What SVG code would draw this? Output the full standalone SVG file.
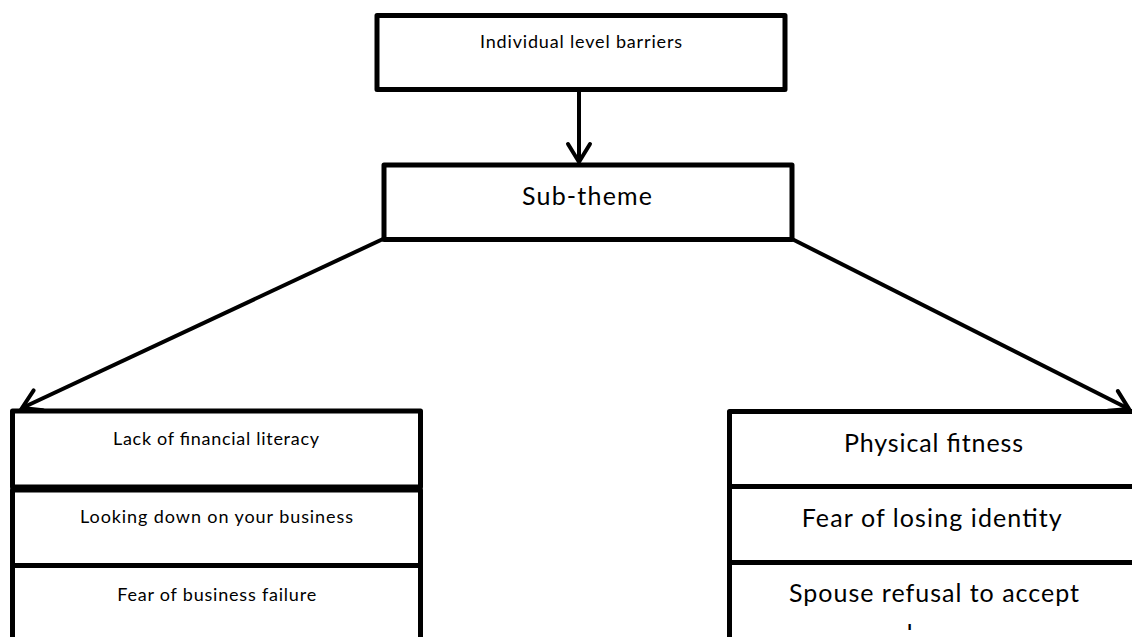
<svg xmlns="http://www.w3.org/2000/svg" width="1132" height="637" viewBox="0 0 1132 637">
  <style>
    .box { fill: #ffffff; stroke: #000000; stroke-width: 5; stroke-linejoin: round; }
    .link { fill: none; stroke: #000000; stroke-width: 4; }
    .head { fill: none; stroke: #000000; stroke-width: 4; stroke-linecap: round; stroke-linejoin: miter; }
    .sm { font-family: Lato, "Liberation Sans", sans-serif; font-size: 18px; fill: #000000; text-anchor: middle; }
    .lg { font-family: Lato, "Liberation Sans", sans-serif; font-size: 25px; fill: #000000; text-anchor: middle; }
  </style>
  <defs>
    <marker id="vee" markerUnits="userSpaceOnUse" markerWidth="30" markerHeight="30" viewBox="-22 -15 26 30" refX="0" refY="0" orient="auto">
      <path class="head" d="M-18,-11 L0,0 L-18,11"/>
    </marker>
    <clipPath id="cellClip">
      <rect x="730" y="565" width="402" height="65"/>
    </clipPath>
  </defs>
  <rect width="1132" height="637" fill="#ffffff"/>

  <g id="connectors">
    <line class="link" x1="579" y1="91" x2="579" y2="162" marker-end="url(#vee)"/>
    <line class="link" x1="383" y1="239" x2="22" y2="408" marker-end="url(#vee)"/>
    <line class="link" x1="792" y1="239" x2="1129" y2="409" marker-end="url(#vee)"/>
  </g>

  <g id="node-individual">
    <rect class="box" x="377" y="15.5" width="408" height="74"/>
    <text class="sm" x="581" y="48" textLength="202">Individual level barriers</text>
  </g>

  <g id="node-subtheme">
    <rect class="box" x="384" y="165" width="408" height="74.5"/>
    <text class="lg" x="587" y="205" textLength="130">Sub-theme</text>
  </g>

  <g id="node-financial-literacy">
    <rect class="box" x="12.5" y="411" width="408" height="76"/>
    <text class="sm" x="216" y="445" textLength="206">Lack of financial literacy</text>
  </g>
  <g id="node-looking-down">
    <rect class="box" x="12.5" y="490" width="408" height="75.5"/>
    <text class="sm" x="216.5" y="523" textLength="273">Looking down on your business</text>
  </g>
  <g id="node-business-failure">
    <rect class="box" x="12.5" y="565.5" width="408" height="90"/>
    <text class="sm" x="216.7" y="601" textLength="199">Fear of business failure</text>
  </g>

  <g id="node-physical-fitness">
    <rect class="box" x="729.5" y="411.5" width="420" height="75"/>
    <text class="lg" x="933.5" y="451.7" textLength="179">Physical fitness</text>
  </g>
  <g id="node-losing-identity">
    <rect class="box" x="729.5" y="486.5" width="420" height="76"/>
    <text class="lg" x="931.7" y="526.7" textLength="260">Fear of losing identity</text>
  </g>
  <g id="node-spouse-refusal">
    <rect class="box" x="729.5" y="562.5" width="420" height="90"/>
    <text class="lg" x="934" y="601.7" textLength="290">Spouse refusal to accept</text>
    <text class="lg" x="934" y="643" clip-path="url(#cellClip)">change</text>
  </g>
</svg>
